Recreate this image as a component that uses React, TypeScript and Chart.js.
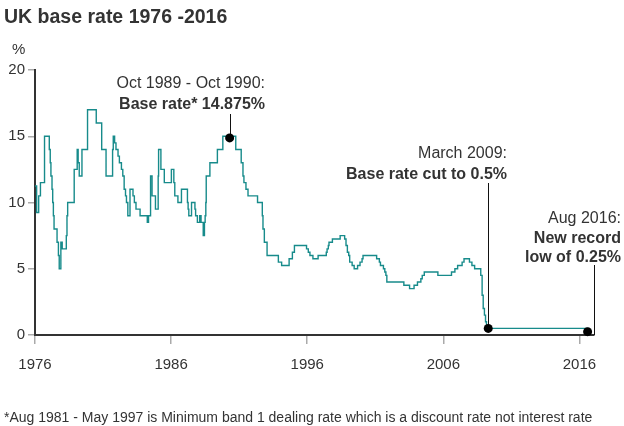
import React, { useEffect, useRef } from "react";
import { Chart, registerables } from "chart.js";

Chart.register(...registerables);

const FONT = '"Liberation Sans", Arial, Helvetica, sans-serif';

// Base rate changes: decimal year of change and new rate (%)
const rateYears = [
  1976.0, 1976.12, 1976.27, 1976.4, 1976.7, 1977.05, 1977.12, 1977.17, 1977.25, 1977.3,
  1977.35, 1977.4, 1977.62, 1977.72, 1977.78, 1977.9, 1978.0, 1978.3, 1978.35, 1978.4,
  1978.88, 1979.1, 1979.17, 1979.25, 1979.45, 1979.86, 1980.5, 1980.9, 1981.22, 1981.7,
  1981.75, 1981.85, 1981.95, 1982.1, 1982.2, 1982.35, 1982.45, 1982.55, 1982.65, 1982.72,
  1982.82, 1982.98, 1983.2, 1983.3, 1983.42, 1983.72, 1984.25, 1984.34, 1984.49, 1984.6,
  1984.85, 1985.05, 1985.08, 1985.25, 1985.5, 1986.02, 1986.2, 1986.27, 1986.5, 1986.76,
  1987.2, 1987.25, 1987.3, 1987.5, 1987.75, 1987.8, 1987.93, 1988.1, 1988.2, 1988.36,
  1988.45, 1988.5, 1988.55, 1988.58, 1988.85, 1989.4, 1989.8, 1990.75, 1991.15, 1991.28,
  1991.35, 1991.5, 1991.65, 1992.35, 1992.7, 1992.75, 1992.85, 1993.05, 1993.88, 1994.12,
  1994.67, 1994.91, 1995.06, 1995.95, 1996.08, 1996.2, 1996.42, 1996.8, 1997.4, 1997.46,
  1997.55, 1997.6, 1997.85, 1998.42, 1998.75, 1998.85, 1998.95, 1999.05, 1999.12, 1999.3,
  1999.45, 1999.7, 1999.88, 2000.03, 2000.1, 2001.1, 2001.3, 2001.38, 2001.6, 2001.7,
  2001.78, 2001.85, 2003.1, 2003.52, 2003.85, 2004.1, 2004.35, 2004.45, 2004.6, 2005.6,
  2006.6, 2006.85, 2007.05, 2007.38, 2007.52, 2007.92, 2008.1, 2008.3, 2008.75, 2008.85,
  2008.93, 2009.02, 2009.1, 2009.17, 2016.6, 2016.61,
];
const rateValues = [
  11.25, 9.25, 10.5, 11.5, 15, 14, 13, 12, 11, 10,
  9, 8, 7, 6, 5, 7, 6.5, 7.5, 9, 10,
  12.5, 14, 13, 12, 14, 17, 16, 14, 12, 14,
  15, 14.5, 14, 13.5, 13, 12.5, 12, 11, 10.5, 10,
  9, 11, 10.5, 10, 9.5, 9, 8.5, 9, 12, 10.5,
  9.5, 12, 14, 12.5, 11.5, 12.5, 11.5, 10.5, 10, 11,
  10, 9.5, 9, 10, 9.5, 9, 8.5, 9, 8.5, 7.5,
  8.5, 9, 10, 12, 13, 14, 15, 14, 13, 12,
  11.5, 11, 10.5, 10, 9, 8, 7, 6, 5.5, 5.25,
  5.75, 6.25, 6.75, 6.5, 6.25, 6, 5.75, 6, 6.25, 6.5,
  6.75, 7, 7.25, 7.5, 7.25, 6.75, 6.25, 6, 5.5, 5.25,
  5, 5.25, 5.5, 5.75, 6, 5.75, 5.5, 5.25, 5, 4.75,
  4.5, 4, 3.75, 3.5, 3.75, 4, 4.25, 4.5, 4.75, 4.5,
  4.75, 5, 5.25, 5.5, 5.75, 5.5, 5.25, 5, 4.5, 3,
  2, 1.5, 1, 0.5, 0.5, 0.25,
];

const yTicks = [0, 5, 10, 15, 20];
const xTicks = [1976, 1986, 1996, 2006, 2016];

// Highlighted points
const noteYears = [1990.3, 2009.3, 2016.6];
const noteValues = [14.875, 0.5, 0.25];
const noteHeads = ["Oct 1989 - Oct 1990:", "March 2009:", "Aug 2016:"];
const noteBold = [["Base rate* 14.875%"], ["Base rate cut to 0.5%"], ["New record", "low of 0.25%"]];

const TITLE = "UK base rate 1976 -2016";
const FOOTNOTE =
  "*Aug 1981 - May 1997 is Minimum band 1 dealing rate which is a discount rate not interest rate";

// layout of annotation texts (right edge, first baseline, line-top, line x offset)
const noteRight = [265, 507, 621];
const noteBase = [88, 158, 222.5];
const noteLineTop = [114, 183, 265];
const noteLineDx = [0, 0, 6.5];

const textPlugin = {
  id: "texts",
  afterDatasetsDraw(chart: any) {
    const { ctx } = chart;
    const xs = chart.scales.x;
    const ys = chart.scales.y;
    ctx.save();
    ctx.textBaseline = "alphabetic";
    // title
    ctx.fillStyle = "#333";
    ctx.textAlign = "left";
    ctx.font = `bold 19.5px ${FONT}`;
    ctx.fillText(TITLE, 4, 23);
    // % unit
    ctx.font = `15px ${FONT}`;
    ctx.fillText("%", 12, 54);
    // footnote
    ctx.font = `14px ${FONT}`;
    ctx.fillText(FOOTNOTE, 4, 421.5);

    // annotations
    for (let i = 0; i < noteYears.length; i++) {
      const px = xs.getPixelForValue(noteYears[i]);
      const py = ys.getPixelForValue(noteValues[i]);
      const lx = Math.round(px + noteLineDx[i]) + 0.5;
      ctx.strokeStyle = "#111";
      ctx.lineWidth = 1;
      ctx.beginPath();
      ctx.moveTo(lx, noteLineTop[i]);
      ctx.lineTo(lx, noteLineDx[i] ? ys.getPixelForValue(0) : py);
      ctx.stroke();
      ctx.fillStyle = "#000";
      ctx.beginPath();
      ctx.arc(px, py, 4.5, 0, Math.PI * 2);
      ctx.fill();

      ctx.fillStyle = "#333";
      ctx.textAlign = "right";
      ctx.font = `16px ${FONT}`;
      ctx.fillText(noteHeads[i], noteRight[i], noteBase[i]);
      ctx.font = `bold 16px ${FONT}`;
      noteBold[i].forEach((t, k) => {
        ctx.fillText(t, noteRight[i], noteBase[i] + 20.5 + k * 18.5);
      });
    }
    ctx.restore();
  },
};

export default function App() {
  const ref = useRef<HTMLCanvasElement | null>(null);
  useEffect(() => {
    if (!ref.current) return;
    const chart = new Chart(ref.current, {
      type: "line",
      data: {
        datasets: [
          {
            data: rateYears.map((x, i) => ({ x, y: rateValues[i] })),
            borderColor: "#178b8b",
            borderWidth: 1.4,
            pointRadius: 0,
            stepped: true,
            fill: false,
          },
        ],
      },
      options: {
        animation: false,
        responsive: false,
        devicePixelRatio: 1,
        layout: { padding: { left: 0, right: 30, top: 70, bottom: 51 } },
        plugins: { legend: { display: false }, tooltip: { enabled: false }, title: { display: false } },
        scales: {
          x: {
            type: "linear",
            min: 1976,
            max: 2017.07,
            afterBuildTicks: (s: any) => {
              s.ticks = xTicks.map((v) => ({ value: v }));
            },
            afterFit: (s: any) => {
              s.height = 40;
            },
            ticks: {
              callback: (v: any) => String(v),
              font: { family: FONT, size: 15 },
              color: "#333",
              padding: 12,
              maxRotation: 0,
              autoSkip: false,
            },
            grid: { drawOnChartArea: false, drawTicks: true, tickLength: 9, color: "#aaa", lineWidth: 1.5 },
            border: { display: true, color: "#333", width: 2 },
          },
          y: {
            min: 0,
            max: 20,
            afterBuildTicks: (s: any) => {
              s.ticks = yTicks.map((v) => ({ value: v }));
            },
            afterFit: (s: any) => {
              s.width = 35;
            },
            ticks: {
              font: { family: FONT, size: 15 },
              color: "#333",
              padding: 3,
            },
            grid: { drawOnChartArea: false, drawTicks: true, tickLength: 7, color: "#aaa", lineWidth: 1.5 },
            border: { display: true, color: "#333", width: 2 },
          },
        },
      },
      plugins: [textPlugin],
    });
    return () => chart.destroy();
  }, []);
  return (
    <div style={{ position: "fixed", left: 0, top: 0, width: 624, height: 426, background: "#fff" }}>
      <canvas ref={ref} width={624} height={426} style={{ display: "block" }} />
    </div>
  );
}
